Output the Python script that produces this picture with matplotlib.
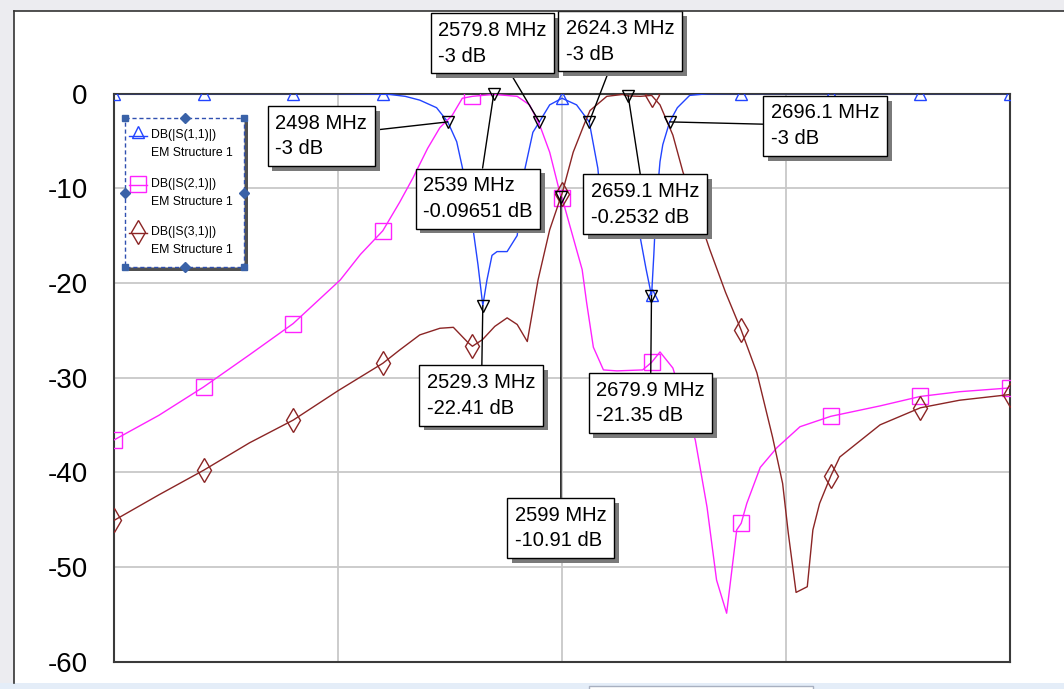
import numpy as np
import matplotlib
matplotlib.use('Agg')
import matplotlib.pyplot as plt
import matplotlib.patheffects as pe
from matplotlib.patches import Rectangle
from matplotlib.lines import Line2D

plt.rcParams['axes.unicode_minus'] = False

# S-parameters of the EM structure, frequency in MHz, values in dB
f11 = [2200, 2280, 2360, 2400, 2428, 2440, 2446, 2460, 2473, 2488, 2498, 2506, 2511,
       2520, 2525, 2529.3, 2533, 2537.5, 2542, 2551, 2560, 2563.5, 2567, 2574, 2579.8,
       2589, 2600, 2613, 2624.3, 2632, 2636, 2645, 2660, 2670, 2675, 2679.9, 2680,
       2682, 2684, 2687.5, 2690, 2696.1, 2703, 2714, 2730, 2760, 2840, 2920, 3000]
s11 = [0, 0, 0, -0.02, -0.05, -0.08, -0.1, -0.3, -0.7, -1.5, -3, -5.1, -7.8,
       -13.8, -18.1, -22.41, -19.7, -17.1, -16.7, -16.7, -15.0, -11.3, -7.9, -4.1, -3,
       -1.2, -0.5, -1.2, -3, -7.9, -12.8, -14.8, -15.0, -15.3, -18.5, -21.35, -21.3,
       -17.0, -12.0, -7.2, -5.4, -3, -1.5, -0.2, -0.03, 0, 0, 0, 0]

f21 = [2200, 2240, 2280, 2321, 2360, 2402, 2420, 2440, 2455, 2467, 2480, 2491, 2502,
       2511, 2520, 2539, 2560, 2571, 2580, 2589, 2599, 2600, 2613, 2618, 2622, 2628,
       2637, 2649, 2672, 2680, 2687.5, 2699, 2719, 2729.5, 2738, 2747, 2756, 2760,
       2765, 2777, 2792, 2812.5, 2840, 2884, 2920, 2955, 3000]
s21 = [-36.6, -34.0, -31.0, -27.6, -24.3, -19.7, -17.0, -14.5, -11.5, -8.9, -5.8, -3.6, -2.3,
       -0.5, -0.3, -0.09651, -0.3, -1.2, -3.3, -6.2, -10.91, -11.0, -16.5, -18.6, -22.1, -26.8,
       -29.2, -29.3, -29.2, -28.4, -27.3, -29.0, -36.6, -43.7, -51.4, -54.9, -46.1, -45.4,
       -43.3, -39.5, -37.4, -35.2, -34.1, -33.0, -32.0, -31.5, -31.1]

f31 = [2200, 2240, 2280, 2321, 2360, 2400, 2440, 2455, 2473, 2491, 2503, 2516, 2520,
       2529, 2540, 2551, 2560, 2569, 2578.6, 2589, 2599, 2600, 2610, 2620, 2625, 2640,
       2654, 2659.1, 2670, 2680, 2687.5, 2699, 2708, 2720.5, 2732, 2746, 2760, 2774,
       2788, 2797, 2802, 2809, 2819, 2824, 2830, 2840, 2848, 2884, 2920, 2955, 3000]
s31 = [-45.1, -42.4, -39.8, -36.9, -34.5, -31.4, -28.5, -27.1, -25.5, -24.8, -24.7, -26.3, -26.7,
       -26.0, -24.6, -23.7, -24.4, -26.2, -19.7, -14.4, -10.91, -10.6, -6.2, -3.2, -1.8, -0.3,
       -0.1, -0.2532, -0.3, -0.2, -1.2, -4.4, -8.3, -12.5, -16.5, -21.0, -25.0, -29.5,
       -36.3, -41.2, -46.4, -52.7, -52.1, -46.1, -43.3, -40.4, -38.4, -35.0, -33.2, -32.4, -31.8]

# trace symbols every 80 MHz
sym_freqs = np.arange(2200, 3001, 80)

# marker readouts
mk_freq = [2498, 2579.8, 2624.3, 2696.1, 2539, 2659.1, 2529.3, 2679.9, 2599]
mk_db = [-3, -3, -3, -3, -0.09651, -0.2532, -22.41, -21.35, -10.91]
# where each readout box sits (MHz, dB)
mk_box = [(2385, -4.5), (2538, 5.3), (2652, 5.5), (2835, -3.4), (2525, -11.1),
          (2674, -11.7), (2528, -31.9), (2679, -32.7), (2599, -45.9)]

legend_names = ['DB(|S(1,1)|)', 'DB(|S(2,1)|)', 'DB(|S(3,1)|)']

blue = '#2244ff'
pink = '#ff22ff'
brown = '#8b2525'

W, H = 1064, 689
fig = plt.figure(figsize=(W / 100, H / 100), dpi=100, facecolor='#ececf0')


def fx(x):
    return x / W


def fy(y):
    return 1 - y / H


# window frame
fig.add_artist(Rectangle((fx(14), fy(683)), 1 - fx(14), fy(11) - fy(683),
                         transform=fig.transFigure, fc='white', ec='none', zorder=0))
fig.add_artist(Line2D([fx(14), fx(14)], [fy(683), fy(11)], transform=fig.transFigure,
                      color='#333333', lw=1.2))
fig.add_artist(Line2D([fx(14), 1], [fy(11), fy(11)], transform=fig.transFigure,
                      color='#333333', lw=1.2))
fig.add_artist(Rectangle((0, 0), 1, fy(683), transform=fig.transFigure,
                         fc='#e4edf8', ec='none', zorder=0))
fig.add_artist(Rectangle((fx(589), -0.01), fx(813) - fx(589), fy(686) + 0.01,
                         transform=fig.transFigure, fc='white', ec='#a8b0c0', lw=1, zorder=1))

ax = fig.add_axes([fx(114), fy(661.5), (1010 - 114) / W, (661.5 - 93.5) / H])
ax.set_xlim(2200, 3000)
ax.set_ylim(-60, 0)
ax.set_xticks([2400, 2600, 2800])
ax.set_xticklabels([])
ax.set_yticks(np.arange(-60, 1, 10))
ax.grid(color='#c8c8c8', lw=1.3)
ax.set_axisbelow(True)
ax.tick_params(length=0, pad=19, labelsize=20)
for lab in ax.get_yticklabels():
    lab.set_family(['Liberation Sans', 'DejaVu Sans'])
for sp in ax.spines.values():
    sp.set_color('#3a3a3a')
    sp.set_linewidth(1.5)


def marks(f):
    return list(np.isin(np.round(np.array(f), 1), sym_freqs))


ax.plot(f11, s11, color=blue, lw=1, marker='^', ms=8.5, mfc='none', mec=blue, mew=1,
        markevery=marks(f11), zorder=3)
ax.plot(f21, s21, color=pink, lw=1, marker='s', ms=11.5, mfc='none', mec=pink, mew=1,
        markevery=marks(f21), zorder=3)
ax.plot(f31, s31, color=brown, lw=1, marker='d', ms=12, mfc='none', mec=brown, mew=1,
        markevery=marks(f31), zorder=3)

# readout markers
ax.plot(mk_freq, mk_db, ls='none', marker='v', ms=9, mfc='none', mec='black', mew=1,
        zorder=6, clip_on=False)
for f, d, (bx, by) in zip(mk_freq, mk_db, mk_box):
    ann = ax.annotate(f'{f:g} MHz\n{d:g} dB', xy=(f, d), xytext=(bx, by),
                      ha='center', va='center', multialignment='left', fontsize=14.5,
                      linespacing=1.45,
                      family=['Liberation Sans Narrow', 'Liberation Sans', 'DejaVu Sans'],
                      bbox=dict(boxstyle='square,pad=0.38', fc='white', ec='black', lw=1),
                      arrowprops=dict(arrowstyle='-', color='black', lw=1, shrinkA=0, shrinkB=0),
                      annotation_clip=False, zorder=8)
    ann.get_bbox_patch().set_path_effects(
        [pe.withSimplePatchShadow(offset=(3.5, -3.5), shadow_rgbFace='#7a7a7a', alpha=1)])

# legend block, drawn in screen pixels
lg = fig.add_axes([fx(125), fy(267), 119 / W, 149 / H], zorder=10)
lg.set_xlim(125, 244)
lg.set_ylim(267, 118)
lg.axis('off')
lg.add_patch(Rectangle((129, 122), 119, 149, fc='#505050', ec='none', clip_on=False, zorder=0))
lg.add_patch(Rectangle((125, 118), 119, 149, fc='white', ec='#3050b0', lw=1,
                       ls=(0, (3, 2)), clip_on=False, zorder=1))
for hx, hy in [(125, 118), (244, 118), (125, 267), (244, 267)]:
    lg.plot(hx, hy, marker='s', ms=4.5, color='#3a62a8', clip_on=False, zorder=3)
for hx, hy in [(184.5, 118), (184.5, 267), (125, 192.5), (244, 192.5)]:
    lg.plot(hx, hy, marker='D', ms=5, color='#3a62a8', clip_on=False, zorder=3)

entry_y = [135, 184, 232]
entry_sym = [('^', blue, 8.5, -3), ('s', pink, 11.5, 0), ('d', brown, 12, 0)]
for name, y, (m, c, ms, dy) in zip(legend_names, entry_y, entry_sym):
    lg.plot([129, 147], [y + 1, y + 1], color=c, lw=1, zorder=2)
    lg.plot(138, y + dy, marker=m, ms=ms, mfc='none', mec=c, mew=1, zorder=2)
    lg.text(151, y, name, fontsize=8.8, family=['Liberation Sans', 'DejaVu Sans'],
            va='center', ha='left', zorder=2)
    lg.text(151, y + 18, 'EM Structure 1', fontsize=8.8,
            family=['Liberation Sans', 'DejaVu Sans'], va='center', ha='left', zorder=2)

fig.savefig('out.png', dpi=100, facecolor=fig.get_facecolor())
